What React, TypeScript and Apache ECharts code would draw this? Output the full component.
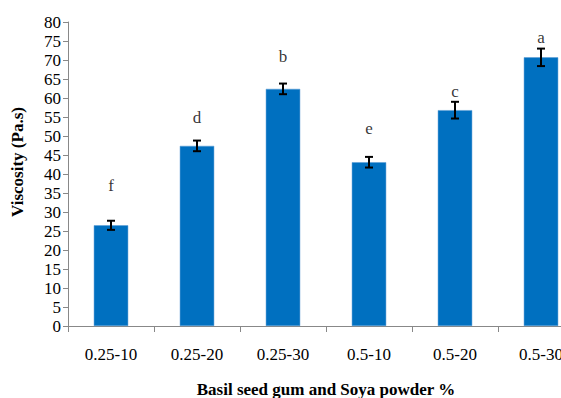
import React, { useEffect, useRef } from "react";
import * as echarts from "echarts";

const categories = ["0.25-10", "0.25-20", "0.25-30", "0.5-10", "0.5-20", "0.5-30"];
const viscosity = [26.5, 47.4, 62.4, 43.1, 56.8, 70.7];
const errors = [1.2, 1.4, 1.4, 1.4, 2.2, 2.3];
const letters = ["f", "d", "b", "e", "c", "a"];
const letterHeights = [37.1, 55.0, 70.8, 52.1, 61.6, 75.8];
const yTicks = { min: 0, max: 80, interval: 5 };

const SERIF = "'Liberation Serif', 'DejaVu Serif', serif";

export default function App() {
  const ref = useRef<HTMLDivElement>(null);
  useEffect(() => {
    if (!ref.current) return;
    const chart = echarts.init(ref.current, null, { renderer: "svg" });
    const errData = viscosity.map((v, i) => [i, v - errors[i], v + errors[i]]);
    const letterData = letterHeights.map((h, i) => [i, h]);
    chart.setOption({
      animation: false,
      backgroundColor: "#ffffff",
      grid: { left: 68, top: 22, width: 516, height: 304, outerBoundsMode: "none", containLabel: false },
      xAxis: {
        type: "category",
        data: categories,
        boundaryGap: true,
        axisLine: { lineStyle: { color: "#888888", width: 1 } },
        axisTick: { show: true, alignWithLabel: false, length: 6, lineStyle: { color: "#888888" } },
        axisLabel: { color: "#000", fontFamily: SERIF, fontSize: 17, margin: 20 },
        name: "Basil seed gum and Soya powder %",
        nameLocation: "middle",
        nameGap: 55,
        nameTextStyle: { color: "#000", fontFamily: SERIF, fontSize: 17, fontWeight: "bold" },
      },
      yAxis: {
        type: "value",
        min: yTicks.min,
        max: yTicks.max,
        interval: yTicks.interval,
        splitLine: { show: false },
        axisLine: { show: true, lineStyle: { color: "#888888", width: 1 } },
        axisTick: { show: true, length: 5, lineStyle: { color: "#888888" } },
        axisLabel: { color: "#000", fontFamily: SERIF, fontSize: 17, margin: 7 },
      },
      graphic: [
        {
          type: "text",
          x: 17,
          y: 162,
          rotation: Math.PI / 2,
          style: {
            text: "Viscosity (Pa.s)",
            fill: "#000",
            font: "bold 17px " + SERIF,
            textAlign: "center",
            textVerticalAlign: "middle",
          },
        },
      ],
      series: [
        {
          type: "bar",
          data: viscosity,
          barWidth: "40%",
          itemStyle: { color: "#0070C0", borderColor: "#5b9bd5", borderWidth: 0.5 },
        },
        {
          type: "custom",
          data: errData,
          encode: { x: 0, y: [1, 2] },
          z: 10,
          renderItem: (params: any, api: any) => {
            const i = api.value(0);
            const lo = api.coord([i, api.value(1)]);
            const hi = api.coord([i, api.value(2)]);
            const w = 4;
            const style = { stroke: "#000", lineWidth: 2 };
            return {
              type: "group",
              children: [
                { type: "line", shape: { x1: hi[0], y1: hi[1], x2: lo[0], y2: lo[1] }, style },
                { type: "line", shape: { x1: hi[0] - w, y1: hi[1], x2: hi[0] + w, y2: hi[1] }, style },
                { type: "line", shape: { x1: lo[0] - w, y1: lo[1], x2: lo[0] + w, y2: lo[1] }, style },
              ],
            };
          },
        },
        {
          type: "scatter",
          data: letterData,
          symbolSize: 0,
          label: {
            show: true,
            position: "inside",
            formatter: (p: any) => letters[p.dataIndex],
            color: "#000",
            fontFamily: SERIF,
            fontSize: 17,
          },
        },
      ],
    });
    return () => chart.dispose();
  }, []);
  return (
    <div
      ref={ref}
      style={{ position: "fixed", left: 0, top: 0, width: 561, height: 398, background: "#fff" }}
    />
  );
}
